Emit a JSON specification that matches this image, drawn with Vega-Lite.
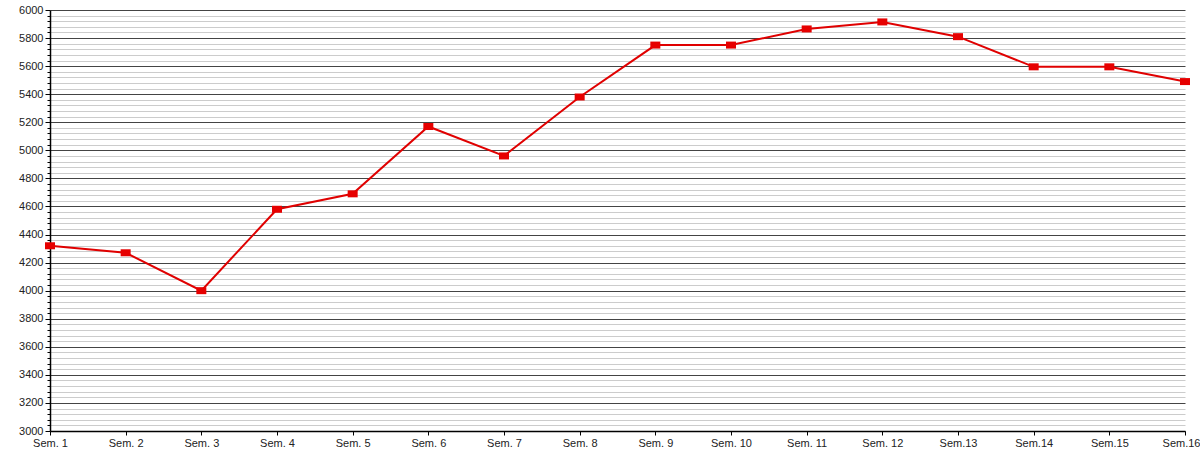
{
  "$schema": "https://vega.github.io/schema/vega-lite/v6.json",
  "width": 1135,
  "height": 421,
  "autosize": {"type": "none"},
  "padding": {"left": 50, "top": 10, "right": 15, "bottom": 19},
  "background": "white",
  "config": {
    "view": {"stroke": null},
    "font": "Liberation Sans",
    "axis": {
      "labelFont": "Liberation Sans",
      "labelFontSize": 11,
      "labelColor": "#222",
      "domainColor": "#000",
      "tickColor": "#000",
      "title": null
    }
  },
  "data": {
    "values": [
      {"week": "Sem. 1", "value": 4320},
      {"week": "Sem. 2", "value": 4270},
      {"week": "Sem. 3", "value": 4000},
      {"week": "Sem. 4", "value": 4580},
      {"week": "Sem. 5", "value": 4690},
      {"week": "Sem. 6", "value": 5170},
      {"week": "Sem. 7", "value": 4960},
      {"week": "Sem. 8", "value": 5380},
      {"week": "Sem. 9", "value": 5750},
      {"week": "Sem. 10", "value": 5750},
      {"week": "Sem. 11", "value": 5865},
      {"week": "Sem. 12", "value": 5915},
      {"week": "Sem.13", "value": 5810},
      {"week": "Sem.14", "value": 5595},
      {"week": "Sem.15", "value": 5595},
      {"week": "Sem.16", "value": 5490}
    ]
  },
  "encoding": {
    "x": {
      "field": "week",
      "type": "ordinal",
      "sort": null,
      "scale": {"type": "point", "padding": 0},
      "axis": {
        "labelAngle": 0,
        "tickSize": 4,
        "labelPadding": 2,
        "grid": false,
        "domainWidth": 1.5,
        "labelAlign": {"condition": {"test": "datum.value === 'Sem.16'", "value": "right"}, "value": "center"},
        "labelOffset": {"condition": {"test": "datum.value === 'Sem.16'", "value": 15}, "value": 0}
      }
    },
    "y": {
      "field": "value",
      "type": "quantitative",
      "scale": {"domain": [3000, 6000], "nice": false, "zero": false},
      "axis": {
        "values": [3000,3040,3080,3120,3160,3200,3240,3280,3320,3360,3400,3440,3480,3520,3560,3600,3640,3680,3720,3760,3800,3840,3880,3920,3960,4000,4040,4080,4120,4160,4200,4240,4280,4320,4360,4400,4440,4480,4520,4560,4600,4640,4680,4720,4760,4800,4840,4880,4920,4960,5000,5040,5080,5120,5160,5200,5240,5280,5320,5360,5400,5440,5480,5520,5560,5600,5640,5680,5720,5760,5800,5840,5880,5920,5960,6000],
        "labelExpr": "datum.value % 200 === 0 ? datum.value : ''",
        "format": "d",
        "grid": true,
        "gridColor": {"condition": {"test": "datum.value % 200 === 0", "value": "#444"}, "value": "#cccccc"},
        "gridWidth": 1,
        "tickSize": {"condition": {"test": "datum.value % 200 === 0", "value": 5}, "value": 3},
        "labelPadding": 2,
        "domainWidth": 1.5,
        "labelOverlap": false
      }
    }
  },
  "layer": [
    {
      "mark": {"type": "line", "color": "#e00000", "strokeWidth": 2}
    },
    {
      "mark": {
        "type": "point",
        "shape": "M-1,-0.7H1V0.7H-1Z",
        "filled": true,
        "color": "#e60000",
        "opacity": 1,
        "size": 100
      }
    }
  ]
}
